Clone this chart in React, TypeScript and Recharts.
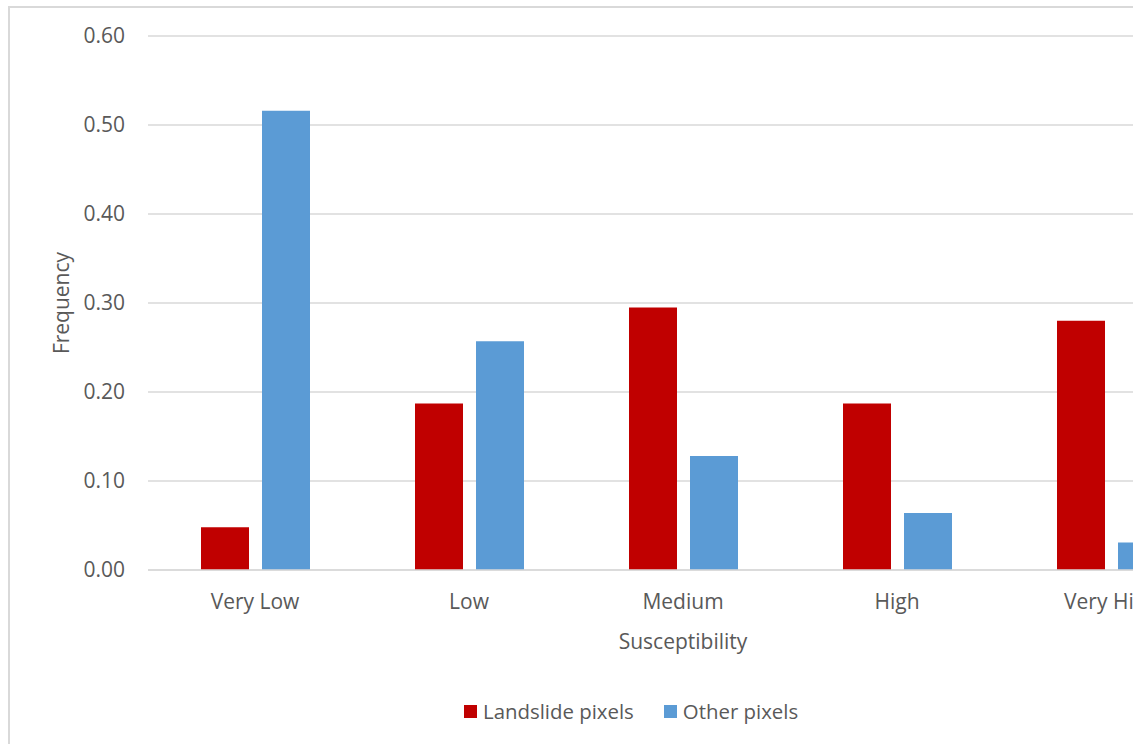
import { BarChart, Bar, XAxis, YAxis, CartesianGrid } from 'recharts'

// susceptibility classes and the share of pixels falling in each
const classes = ['Very Low', 'Low', 'Medium', 'High', 'Very High']
const landslidePixels = [0.048, 0.187, 0.295, 0.187, 0.28]
const otherPixels = [0.516, 0.257, 0.128, 0.064, 0.031]
const yTicks = [0, 0.1, 0.2, 0.3, 0.4, 0.5, 0.6]

const series = [
  { key: 'landslide', name: 'Landslide pixels', color: '#C00000' },
  { key: 'other', name: 'Other pixels', color: '#5B9BD5' },
]

const data = classes.map((c, i) => ({
  cls: c,
  landslide: landslidePixels[i],
  other: otherPixels[i],
}))

const FONT = '"Open Sans", sans-serif'
const TEXT = '#595959'
const GRID = '#d9d9d9'

export default function App() {
  return (
    <div
      style={{
        position: 'fixed', left: 0, top: 0, width: 1133, height: 744,
        overflow: 'hidden', background: '#fff', fontFamily: FONT,
      }}
    >
      {/* chart frame, runs past the right and bottom edges */}
      <div
        style={{
          position: 'absolute', left: 8, top: 6, width: 1400, height: 900,
          border: `2px solid ${GRID}`, boxSizing: 'border-box',
        }}
      />
      <div style={{ position: 'absolute', left: 0, top: 0 }}>
        <BarChart
          width={1300}
          height={744}
          data={data}
          margin={{ top: 36, right: 82, left: 0, bottom: 0 }}
          barSize={48}
          barGap={13}
        >
          <CartesianGrid vertical={false} stroke={GRID} strokeWidth={1.5} />
          <XAxis
            dataKey="cls"
            height={174}
            axisLine={{ stroke: GRID, strokeWidth: 1.5 }}
            tickLine={false}
            tickSize={0}
            tickMargin={24}
            tick={{ fontSize: 21, fill: TEXT, fontFamily: FONT }}
            label={{
              value: 'Susceptibility', position: 'insideBottom', offset: 95,
              style: { fontSize: 21, fill: TEXT, fontFamily: FONT },
            }}
          />
          <YAxis
            width={148}
            domain={[0, 0.6]}
            ticks={yTicks}
            tickFormatter={(v: number) => v.toFixed(2)}
            axisLine={false}
            tickLine={false}
            tickSize={0}
            tickMargin={23}
            tick={{ fontSize: 21, fill: TEXT, fontFamily: FONT }}
            label={{
              value: 'Frequency', angle: -90, position: 'insideLeft', offset: 62,
              style: { fontSize: 21, fill: TEXT, fontFamily: FONT, textAnchor: 'middle' },
            }}
          />
          {series.map(s => (
            <Bar key={s.key} dataKey={s.key} name={s.name} fill={s.color} isAnimationActive={false} />
          ))}
        </BarChart>
      </div>
      <div
        style={{
          position: 'absolute', left: 464, top: 696, display: 'flex', gap: 30,
          fontSize: 20.4, color: TEXT, lineHeight: '30px',
        }}
      >
        {series.map(s => (
          <div key={s.key} style={{ display: 'flex', alignItems: 'center', gap: 6 }}>
            <span style={{ width: 13, height: 13, background: s.color, display: 'inline-block' }} />
            <span>{s.name}</span>
          </div>
        ))}
      </div>
    </div>
  )
}
